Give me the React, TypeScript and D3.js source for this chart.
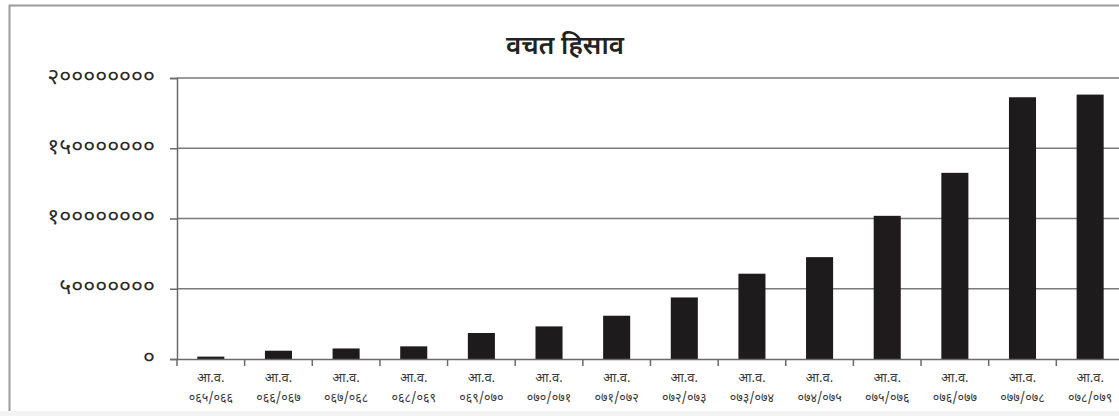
import React, { useEffect, useRef } from "react";
import * as d3 from "d3";

const categories = [
  "०६५/०६६", "०६६/०६७", "०६७/०६८", "०६८/०६९", "०६९/०७०", "०७०/०७१", "०७१/०७२",
  "०७२/०७३", "०७३/०७४", "०७४/०७५", "०७५/०७६", "०७६/०७७", "०७७/०७८", "०७८/०७९",
];
const savings = [
  1700000, 5900000, 7500000, 9000000, 18500000, 23200000, 30800000,
  43800000, 60700000, 72500000, 101900000, 132500000, 186300000, 188200000,
];
const yTicks = [0, 50000000, 100000000, 150000000, 200000000];
const title = "वचत हिसाव";
const categoryPrefix = "आ.व.";

const W = 1119;
const H = 416;
const FONT = "'Noto Sans Devanagari', 'Lohit Devanagari', 'Noto Sans', sans-serif";

const toDeva = (s: string) => s.replace(/[0-9]/g, (d) => "०१२३४५६७८९"[+d]);

export default function App() {
  const ref = useRef<SVGSVGElement | null>(null);

  useEffect(() => {
    const svg = d3.select(ref.current!);
    svg.selectAll("*").remove();

    // frame
    svg.append("rect").attr("x", 0).attr("y", 0).attr("width", W).attr("height", H).attr("fill", "#ffffff");
    svg.append("rect").attr("x", 0).attr("y", 411).attr("width", W).attr("height", 5).attr("fill", "#f3f3f3");
    svg.append("line").attr("x1", 9).attr("x2", W).attr("y1", 5.5).attr("y2", 5.5)
      .attr("stroke", "#9a9a9a").attr("stroke-width", 2);
    svg.append("line").attr("x1", 9.5).attr("x2", 9.5).attr("y1", 5).attr("y2", 411)
      .attr("stroke", "#9a9a9a").attr("stroke-width", 2);

    const left = 177;
    const step = 67.64;
    const x = d3.scaleBand<string>()
      .domain(categories)
      .range([left, left + step * categories.length])
      .paddingInner(0.6)
      .paddingOuter(0.3);
    const y = d3.scaleLinear().domain([0, 200000000]).range([359, 78]);

    // gridlines
    svg.append("g").selectAll("line").data(yTicks.filter((t) => t > 0)).join("line")
      .attr("x1", left).attr("x2", W).attr("y1", (d) => y(d)).attr("y2", (d) => y(d))
      .attr("stroke", "#7a7a7a").attr("stroke-width", 1.5);

    // bars
    svg.append("g").selectAll("rect").data(savings).join("rect")
      .attr("x", (_d, i) => x(categories[i])!)
      .attr("width", x.bandwidth())
      .attr("y", (d) => y(d))
      .attr("height", (d) => y(0) - y(d))
      .attr("fill", "#1e1b1c");

    // y axis
    const yAxis = d3.axisLeft(y).tickValues(yTicks).tickSize(7).tickPadding(15)
      .tickFormat((d) => toDeva(String(d)));
    const gy = svg.append("g").attr("transform", `translate(${left},0)`).call(yAxis);
    gy.select(".domain").attr("stroke", "#6a6a6a").attr("stroke-width", 1.5);
    gy.selectAll(".tick line").attr("stroke", "#6a6a6a").attr("stroke-width", 1.5);
    gy.selectAll(".tick text").attr("font-family", FONT).attr("font-size", 23)
      .attr("fill", "#2a2a2a").attr("dy", "0.22em");

    // x axis
    const xAxis = d3.axisBottom(x).tickSize(0).tickFormat(() => "");
    const gx = svg.append("g").attr("transform", `translate(0,${y(0)})`).call(xAxis);
    gx.select(".domain").attr("stroke", "#6a6a6a").attr("stroke-width", 1.5);
    // ticks at band boundaries
    const bounds = d3.range(categories.length + 1).map((i) => left + i * x.step());
    svg.append("g").selectAll("line").data(bounds.filter((b) => b < W)).join("line")
      .attr("x1", (d) => d).attr("x2", (d) => d)
      .attr("y1", y(0)).attr("y2", y(0) + 7)
      .attr("stroke", "#6a6a6a").attr("stroke-width", 1.5);

    const labels = svg.append("g").attr("font-family", FONT).attr("fill", "#3a3a3a")
      .attr("text-anchor", "middle");
    labels.selectAll("text.l1").data(categories).join("text").attr("class", "l1")
      .attr("x", (d) => x(d)! + x.bandwidth() / 2).attr("y", 382)
      .attr("font-size", 13).text(categoryPrefix);
    labels.selectAll("text.l2").data(categories).join("text").attr("class", "l2")
      .attr("x", (d) => x(d)! + x.bandwidth() / 2).attr("y", 402)
      .attr("font-size", 12.5).text((d) => d);

    // title
    svg.append("text").attr("x", 565).attr("y", 54).attr("text-anchor", "middle")
      .attr("font-family", FONT).attr("font-size", 26).attr("font-weight", 600)
      .attr("fill", "#222").text(title);
  }, []);

  return (
    <svg
      ref={ref}
      width={W}
      height={H}
      style={{ position: "fixed", left: 0, top: 0, display: "block" }}
    />
  );
}
